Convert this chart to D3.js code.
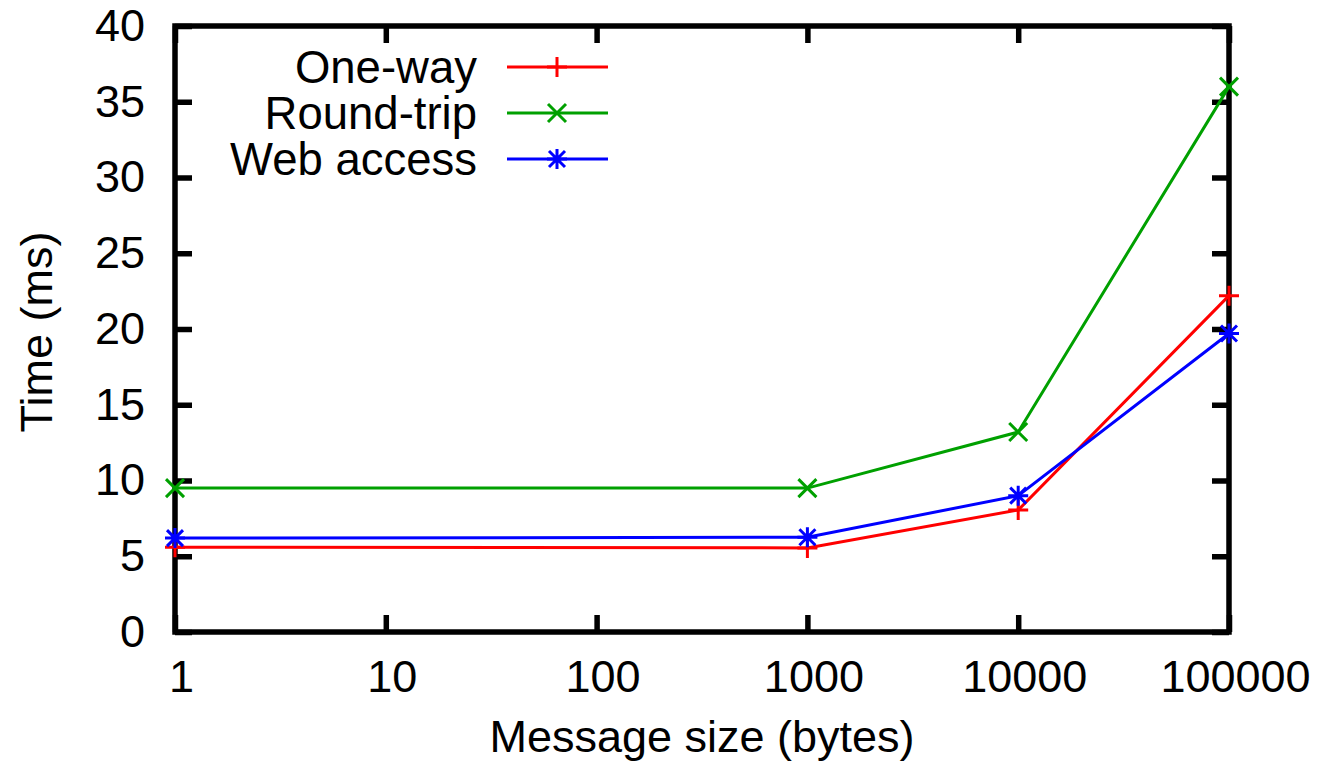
<!DOCTYPE html>
<html>
<head>
<meta charset="utf-8">
<script src="https://cdn.jsdelivr.net/npm/d3@7"></script>
<style>
  body { margin: 0; background: #fff; }
  svg text { font-family: "Liberation Sans", Arial, sans-serif; }
</style>
</head>
<body>
<svg id="chart"></svg>
<script>
// Data
const sizes = [1, 1000, 10000, 100000];
const oneWay = [5.6, 5.55, 8.05, 22.2];
const roundTrip = [9.5, 9.5, 13.2, 36.0];
const webAccess = [6.2, 6.25, 9.0, 19.7];
const seriesNames = ['One-way', 'Round-trip', 'Web access'];
const xTicks = [1, 10, 100, 1000, 10000, 100000];
const yTicks = [0, 5, 10, 15, 20, 25, 30, 35, 40];

const width = 1317;
const height = 772;
const plotLeft = 175, plotRight = 1229, plotTop = 26, plotBottom = 632;

const svg = d3.select('#chart')
  .attr('width', width)
  .attr('height', height);

const xScale = d3.scaleLog().domain([1, 100000]).range([plotLeft, plotRight]);
const yScale = d3.scaleLinear().domain([0, 40]).range([plotBottom, plotTop]);

const series = [
  { name: seriesNames[0], values: oneWay, color: '#ff0000', marker: 'plus' },
  { name: seriesNames[1], values: roundTrip, color: '#00a000', marker: 'cross' },
  { name: seriesNames[2], values: webAccess, color: '#0000ff', marker: 'star' }
];

const markerPaths = {
  plus: 'M-10,0H10M0,-10V10',
  cross: 'M-9,-9L9,9M-9,9L9,-9',
  star: 'M-10,0H10M0,-10V10M-8,-8L8,8M-8,8L8,-8'
};

// Axes (gnuplot style: inward ticks mirrored on all sides)
const fontSize = 45;

const xAxis = d3.axisBottom(xScale).tickValues(xTicks).tickFormat(d3.format('d'))
  .tickSizeInner(-17).tickSizeOuter(0).tickPadding(28);
const xAxisTop = d3.axisTop(xScale).tickValues(xTicks).tickFormat('')
  .tickSizeInner(-17).tickSizeOuter(0);
const yAxis = d3.axisLeft(yScale).tickValues(yTicks)
  .tickSizeInner(-17).tickSizeOuter(0).tickPadding(30);
const yAxisRight = d3.axisRight(yScale).tickValues(yTicks).tickFormat('')
  .tickSizeInner(-17).tickSizeOuter(0);

function styleAxis(g) {
  g.select('.domain').remove();
  g.selectAll('.tick line').attr('stroke', '#000').attr('stroke-width', 5.5);
  g.selectAll('.tick text')
    .attr('fill', '#000')
    .style('font-size', fontSize + 'px')
    .style('font-family', '"Liberation Sans", Arial, sans-serif');
}

svg.append('g').attr('transform', `translate(0,${plotBottom})`).call(xAxis).call(styleAxis)
  .selectAll('.tick text').attr('dx', 6);
svg.append('g').attr('transform', `translate(0,${plotTop})`).call(xAxisTop).call(styleAxis);
svg.append('g').attr('transform', `translate(${plotLeft},0)`).call(yAxis).call(styleAxis);
svg.append('g').attr('transform', `translate(${plotRight},0)`).call(yAxisRight).call(styleAxis);

// Frame
svg.append('rect')
  .attr('x', plotLeft)
  .attr('y', plotTop)
  .attr('width', plotRight - plotLeft)
  .attr('height', plotBottom - plotTop)
  .attr('fill', 'none')
  .attr('stroke', '#000')
  .attr('stroke-width', 5.5);

// Axis titles
svg.append('text')
  .attr('x', (plotLeft + plotRight) / 2)
  .attr('y', 752)
  .attr('text-anchor', 'middle')
  .style('font-size', fontSize + 'px')
  .text('Message size (bytes)');

svg.append('text')
  .attr('transform', `translate(52,${(plotTop + plotBottom) / 2 + 3}) rotate(-90)`)
  .attr('text-anchor', 'middle')
  .style('font-size', fontSize + 'px')
  .text('Time (ms)');

// Lines and markers
const line = d3.line()
  .x((d, i) => xScale(sizes[i]))
  .y(d => yScale(d));

series.forEach(s => {
  svg.append('path')
    .datum(s.values)
    .attr('d', line)
    .attr('fill', 'none')
    .attr('stroke', s.color)
    .attr('stroke-width', 3);

  svg.selectAll(null)
    .data(s.values)
    .enter()
    .append('path')
    .attr('transform', (d, i) => `translate(${xScale(sizes[i])},${yScale(d)})`)
    .attr('d', markerPaths[s.marker])
    .attr('fill', 'none')
    .attr('stroke', s.color)
    .attr('stroke-width', 3);
});

// Legend
const legend = svg.append('g');
series.forEach((s, i) => {
  const y = 67 + i * 46;
  legend.append('text')
    .attr('x', 477)
    .attr('y', y)
    .attr('dy', '0.35em')
    .attr('text-anchor', 'end')
    .style('font-size', '45.5px')
    .text(s.name);
  legend.append('line')
    .attr('x1', 507).attr('x2', 608)
    .attr('y1', y).attr('y2', y)
    .attr('stroke', s.color)
    .attr('stroke-width', 3);
  legend.append('path')
    .attr('transform', `translate(557,${y})`)
    .attr('d', markerPaths[s.marker])
    .attr('fill', 'none')
    .attr('stroke', s.color)
    .attr('stroke-width', 3);
});
</script>
</body>
</html>
